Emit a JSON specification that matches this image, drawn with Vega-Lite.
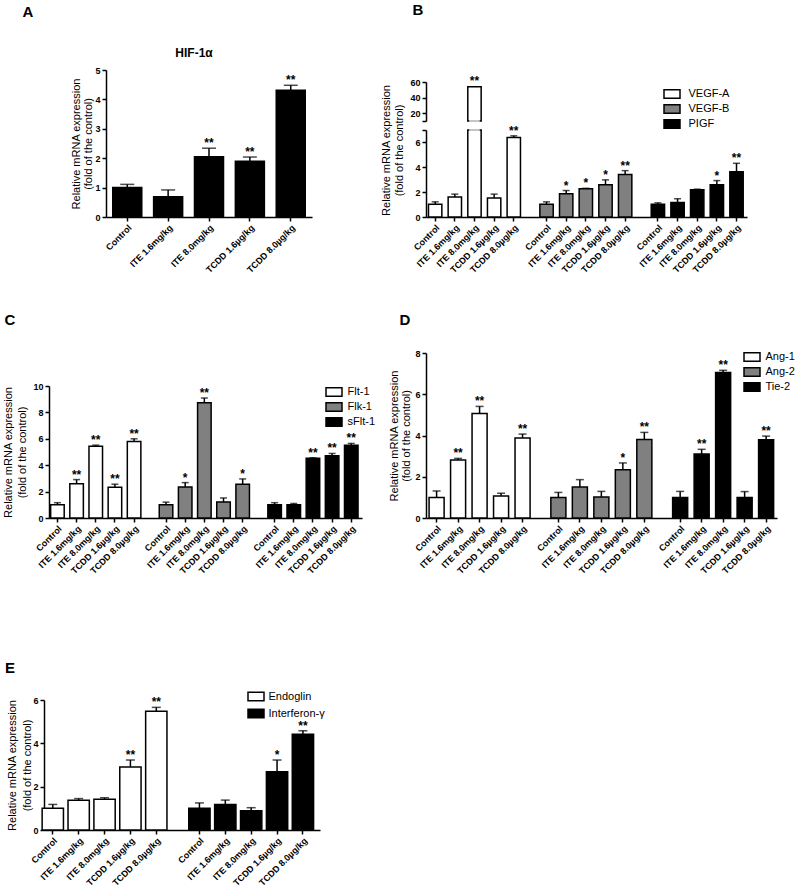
{
"$schema":"https://vega.github.io/schema/vega-lite/v6.json",
"background":"white","padding":0,"autosize":{"type":"pad"},
"columns":2,"align":"none","bounds":"flush","spacing":0,
"resolve":{"scale":{"x":"independent","y":"independent","fill":"independent"},"legend":{"fill":"independent"}},
"datasets":{
"empty":[],
"A":[{"key":"Control","value":1.0,"hi":1.11,"sig":""},{"key":"ITE 1.6mg/kg","value":0.69,"hi":0.92,"sig":""},{"key":"ITE 8.0mg/kg","value":2.05,"hi":2.34,"sig":"**"},{"key":"TCDD 1.6µg/kg","value":1.9,"hi":2.04,"sig":"**"},{"key":"TCDD 8.0µg/kg","value":4.31,"hi":4.48,"sig":"**"}],
"B":[{"key":"VEGF-A|Control","gene":"VEGF-A","value":1.02,"hi":1.22,"sig":""},{"key":"VEGF-A|ITE 1.6mg/kg","gene":"VEGF-A","value":1.6,"hi":1.84,"sig":""},{"key":"VEGF-A|ITE 8.0mg/kg","gene":"VEGF-A","value":54,"hi":54.3,"sig":"**"},{"key":"VEGF-A|TCDD 1.6µg/kg","gene":"VEGF-A","value":1.52,"hi":1.84,"sig":""},{"key":"VEGF-A|TCDD 8.0µg/kg","gene":"VEGF-A","value":6.4,"hi":6.53,"sig":"**"},
{"key":"VEGF-B|Control","gene":"VEGF-B","value":1.02,"hi":1.22,"sig":""},{"key":"VEGF-B|ITE 1.6mg/kg","gene":"VEGF-B","value":1.87,"hi":2.13,"sig":"*"},{"key":"VEGF-B|ITE 8.0mg/kg","gene":"VEGF-B","value":2.27,"hi":2.31,"sig":"*"},{"key":"VEGF-B|TCDD 1.6µg/kg","gene":"VEGF-B","value":2.59,"hi":2.99,"sig":"*"},{"key":"VEGF-B|TCDD 8.0µg/kg","gene":"VEGF-B","value":3.41,"hi":3.73,"sig":"**"},
{"key":"PIGF|Control","gene":"PIGF","value":1.02,"hi":1.14,"sig":""},{"key":"PIGF|ITE 1.6mg/kg","gene":"PIGF","value":1.17,"hi":1.47,"sig":""},{"key":"PIGF|ITE 8.0mg/kg","gene":"PIGF","value":2.19,"hi":2.24,"sig":""},{"key":"PIGF|TCDD 1.6µg/kg","gene":"PIGF","value":2.59,"hi":2.93,"sig":"*"},{"key":"PIGF|TCDD 8.0µg/kg","gene":"PIGF","value":3.65,"hi":4.32,"sig":"**"}],
"C":[{"key":"Flt-1|Control","gene":"Flt-1","value":1.01,"hi":1.16,"sig":""},{"key":"Flt-1|ITE 1.6mg/kg","gene":"Flt-1","value":2.6,"hi":2.91,"sig":"**"},{"key":"Flt-1|ITE 8.0mg/kg","gene":"Flt-1","value":5.44,"hi":5.52,"sig":"**"},{"key":"Flt-1|TCDD 1.6µg/kg","gene":"Flt-1","value":2.33,"hi":2.56,"sig":"**"},{"key":"Flt-1|TCDD 8.0µg/kg","gene":"Flt-1","value":5.8,"hi":6.0,"sig":"**"},
{"key":"Flk-1|Control","gene":"Flk-1","value":1.01,"hi":1.2,"sig":""},{"key":"Flk-1|ITE 1.6mg/kg","gene":"Flk-1","value":2.35,"hi":2.68,"sig":"*"},{"key":"Flk-1|ITE 8.0mg/kg","gene":"Flk-1","value":8.73,"hi":9.09,"sig":"**"},{"key":"Flk-1|TCDD 1.6µg/kg","gene":"Flk-1","value":1.22,"hi":1.52,"sig":""},{"key":"Flk-1|TCDD 8.0µg/kg","gene":"Flk-1","value":2.56,"hi":2.96,"sig":"*"},
{"key":"sFlt-1|Control","gene":"sFlt-1","value":1.0,"hi":1.16,"sig":""},{"key":"sFlt-1|ITE 1.6mg/kg","gene":"sFlt-1","value":1.0,"hi":1.1,"sig":""},{"key":"sFlt-1|ITE 8.0mg/kg","gene":"sFlt-1","value":4.53,"hi":4.56,"sig":"**"},{"key":"sFlt-1|TCDD 1.6µg/kg","gene":"sFlt-1","value":4.71,"hi":4.89,"sig":"**"},{"key":"sFlt-1|TCDD 8.0µg/kg","gene":"sFlt-1","value":5.52,"hi":5.65,"sig":"**"}],
"D":[{"key":"Ang-1|Control","gene":"Ang-1","value":1.0,"hi":1.31,"sig":""},{"key":"Ang-1|ITE 1.6mg/kg","gene":"Ang-1","value":2.81,"hi":2.89,"sig":"**"},{"key":"Ang-1|ITE 8.0mg/kg","gene":"Ang-1","value":5.07,"hi":5.41,"sig":"**"},{"key":"Ang-1|TCDD 1.6µg/kg","gene":"Ang-1","value":1.07,"hi":1.2,"sig":""},{"key":"Ang-1|TCDD 8.0µg/kg","gene":"Ang-1","value":3.88,"hi":4.07,"sig":"**"},
{"key":"Ang-2|Control","gene":"Ang-2","value":1.0,"hi":1.24,"sig":""},{"key":"Ang-2|ITE 1.6mg/kg","gene":"Ang-2","value":1.5,"hi":1.86,"sig":""},{"key":"Ang-2|ITE 8.0mg/kg","gene":"Ang-2","value":1.02,"hi":1.29,"sig":""},{"key":"Ang-2|TCDD 1.6µg/kg","gene":"Ang-2","value":2.34,"hi":2.67,"sig":"*"},{"key":"Ang-2|TCDD 8.0µg/kg","gene":"Ang-2","value":3.81,"hi":4.15,"sig":"**"},
{"key":"Tie-2|Control","gene":"Tie-2","value":1.0,"hi":1.29,"sig":""},{"key":"Tie-2|ITE 1.6mg/kg","gene":"Tie-2","value":3.1,"hi":3.33,"sig":"**"},{"key":"Tie-2|ITE 8.0mg/kg","gene":"Tie-2","value":7.06,"hi":7.16,"sig":"**"},{"key":"Tie-2|TCDD 1.6µg/kg","gene":"Tie-2","value":0.99,"hi":1.28,"sig":""},{"key":"Tie-2|TCDD 8.0µg/kg","gene":"Tie-2","value":3.8,"hi":3.97,"sig":"**"}],
"E":[{"key":"Endoglin|Control","gene":"Endoglin","value":1.0,"hi":1.18,"sig":""},{"key":"Endoglin|ITE 1.6mg/kg","gene":"Endoglin","value":1.37,"hi":1.45,"sig":""},{"key":"Endoglin|ITE 8.0mg/kg","gene":"Endoglin","value":1.42,"hi":1.49,"sig":""},{"key":"Endoglin|TCDD 1.6µg/kg","gene":"Endoglin","value":2.91,"hi":3.23,"sig":"**"},{"key":"Endoglin|TCDD 8.0µg/kg","gene":"Endoglin","value":5.48,"hi":5.66,"sig":"**"},
{"key":"Interferon-γ|Control","gene":"Interferon-γ","value":1.0,"hi":1.25,"sig":""},{"key":"Interferon-γ|ITE 1.6mg/kg","gene":"Interferon-γ","value":1.18,"hi":1.38,"sig":""},{"key":"Interferon-γ|ITE 8.0mg/kg","gene":"Interferon-γ","value":0.89,"hi":1.03,"sig":""},{"key":"Interferon-γ|TCDD 1.6µg/kg","gene":"Interferon-γ","value":2.69,"hi":3.23,"sig":"*"},{"key":"Interferon-γ|TCDD 8.0µg/kg","gene":"Interferon-γ","value":4.42,"hi":4.58,"sig":"**"}]
},
"concat":[
{"width":56,"height":24,"data":{"values":[{"t":"A"}]},"mark":{"type":"text","fontSize":15,"fontWeight":"bold","color":"black"},"encoding":{"text":{"field":"t"}}},
{"width":36,"height":20,"data":{"values":[{"t":"B"}]},"mark":{"type":"text","fontSize":15,"fontWeight":"bold","color":"black"},"encoding":{"text":{"field":"t"}}},

{"width":400,"height":46,"data":{"name":"empty"},"mark":"point"},
{"width":397,"height":1,"data":{"name":"empty"},"mark":"point"},

{"width":312,"height":147,"title":{"text":"HIF-1α","frame":"group","dx":38,"fontSize":12,"fontWeight":"bold","offset":6,"color":"black"},"data":{"name":"A"},
 "layer":[
 {"mark":{"type":"bar","fill":"black","stroke":"black","strokeWidth":1.5,"width":{"band":0.71}},
  "encoding":{"x":{"field":"key","type":"nominal","scale":{"domain":["Control","ITE 1.6mg/kg","ITE 8.0mg/kg","TCDD 1.6µg/kg","TCDD 8.0µg/kg"],"range":[106,312],"paddingInner":0,"paddingOuter":0.02},"axis":{"title":null,"labelOverlap":false}},
   "y":{"field":"value","type":"quantitative","scale":{"domain":[0,5],"nice":false},"axis":{"values":[0,1,2,3,4,5],"format":"d","tickCount":30,"labelOverlap":false,"offset":-106,"title":["Relative mRNA expression","(fold of the control)"],"titleLineHeight":12,"titlePadding":1}}}},
 {"mark":{"type":"rule","color":"black","strokeWidth":1.5},"encoding":{"x":{"field":"key","type":"nominal"},"y":{"field":"value","type":"quantitative"},"y2":{"field":"hi"}}},
 {"mark":{"type":"tick","orient":"horizontal","color":"black","thickness":1.5,"size":14},"encoding":{"x":{"field":"key","type":"nominal"},"y":{"field":"hi","type":"quantitative"}}},
 {"mark":{"type":"text","fontSize":12,"fontWeight":"bold","baseline":"alphabetic","dy":-1,"color":"black"},"encoding":{"x":{"field":"key","type":"nominal"},"y":{"field":"hi","type":"quantitative"},"text":{"field":"sig"}}}
 ]},
{"width":347,"height":147,"data":{"name":"B"},
 "resolve":{"scale":{"y":"independent"}},
 "layer":[
  {"transform":[{"filter":"datum.value > 10"}],
   "layer":[
   {"mark":{"type":"bar","stroke":"black","strokeWidth":1.5,"width":{"band":2.04}},
    "encoding":{"x":{"field":"key","type":"nominal"},
     "y":{"field":"value","type":"quantitative","scale":{"domain":[10,60],"range":[51,12],"nice":false,"zero":false,"clamp":true},"axis":{"orient":"left","offset":-26,"values":[10,20,40,60],"format":"d","tickCount":30,"labelOverlap":false,"labelExpr":"datum.value == 10 ? '' : datum.label","title":null}},
     "y2":{"datum":0},
     "fill":{"field":"gene","type":"nominal","scale":{"domain":["VEGF-A","VEGF-B","PIGF"],"range":["white","#808080","black"]},"legend":{"orient":"none","legendX":263,"legendY":16.5,"clipHeight":15,"rowPadding":0,"labelOffset":7.5,"title":null}}}},
   {"mark":{"type":"tick","orient":"horizontal","color":"white","thickness":2.5,"size":10.5},"encoding":{"x":{"field":"key","type":"nominal"},"y":{"datum":10}}},
   {"mark":{"type":"text","fontSize":12,"fontWeight":"bold","baseline":"alphabetic","dy":-1,"color":"black"},"encoding":{"x":{"field":"key","type":"nominal"},"y":{"field":"hi","type":"quantitative"},"text":{"field":"sig"}}}
   ]},
  {"layer":[
   {"mark":{"type":"bar","stroke":"black","strokeWidth":1.5,"width":{"band":2.04}},
    "encoding":{"x":{"field":"key","type":"nominal","scale":{"domain":["VEGF-A|Control","_1","_2","VEGF-A|ITE 1.6mg/kg","_3","_4","VEGF-A|ITE 8.0mg/kg","_5","_6","VEGF-A|TCDD 1.6µg/kg","_7","_8","VEGF-A|TCDD 8.0µg/kg","_9","_10","_11","_12","VEGF-B|Control","_13","_14","VEGF-B|ITE 1.6mg/kg","_15","_16","VEGF-B|ITE 8.0mg/kg","_17","_18","VEGF-B|TCDD 1.6µg/kg","_19","_20","VEGF-B|TCDD 8.0µg/kg","_21","_22","_23","_24","PIGF|Control","_25","_26","PIGF|ITE 1.6mg/kg","_27","_28","PIGF|ITE 8.0mg/kg","_29","_30","PIGF|TCDD 1.6µg/kg","_31","_32","PIGF|TCDD 8.0µg/kg"],"range":[26,347],"paddingInner":0,"paddingOuter":2.3,"align":0.45},
      "axis":{"values":["VEGF-A|Control","VEGF-A|ITE 1.6mg/kg","VEGF-A|ITE 8.0mg/kg","VEGF-A|TCDD 1.6µg/kg","VEGF-A|TCDD 8.0µg/kg","VEGF-B|Control","VEGF-B|ITE 1.6mg/kg","VEGF-B|ITE 8.0mg/kg","VEGF-B|TCDD 1.6µg/kg","VEGF-B|TCDD 8.0µg/kg","PIGF|Control","PIGF|ITE 1.6mg/kg","PIGF|ITE 8.0mg/kg","PIGF|TCDD 1.6µg/kg","PIGF|TCDD 8.0µg/kg"],"labelOverlap":false,"labelExpr":"split(datum.label, '|')[1]","title":null}},
     "y":{"field":"value","type":"quantitative","scale":{"domain":[0,7],"range":[147,60],"nice":false,"clamp":true},"axis":{"orient":"left","offset":-26,"values":[0,2,4,6,7],"format":"d","tickCount":30,"labelOverlap":false,"labelExpr":"datum.value == 7 ? '' : datum.label","title":["Relative mRNA expression","(fold of the control)"],"titleLineHeight":13,"titlePadding":10,"titleY":80}},
     "fill":{"field":"gene","type":"nominal","scale":{"domain":["VEGF-A","VEGF-B","PIGF"],"range":["white","#808080","black"]},"legend":{"orient":"none","legendX":263,"legendY":16.5,"clipHeight":15,"rowPadding":0,"labelOffset":7.5,"title":null}}}},
   {"transform":[{"filter":"datum.value > 7"}],"mark":{"type":"tick","orient":"horizontal","color":"white","thickness":2.5,"size":10.5},"encoding":{"x":{"field":"key","type":"nominal"},"y":{"field":"value","type":"quantitative"}}},
   {"transform":[{"filter":"datum.hi <= 7"}],"mark":{"type":"rule","color":"black","strokeWidth":1.5},"encoding":{"x":{"field":"key","type":"nominal"},"y":{"field":"value","type":"quantitative"},"y2":{"field":"hi"}}},
   {"transform":[{"filter":"datum.hi <= 7"}],"mark":{"type":"tick","orient":"horizontal","color":"black","thickness":1.5,"size":7},"encoding":{"x":{"field":"key","type":"nominal"},"y":{"field":"hi","type":"quantitative"}}},
   {"transform":[{"filter":"datum.hi <= 7"}],"mark":{"type":"text","fontSize":12,"fontWeight":"bold","baseline":"alphabetic","dy":-1,"color":"black"},"encoding":{"x":{"field":"key","type":"nominal"},"y":{"field":"hi","type":"quantitative"},"text":{"field":"sig"}}}
  ]}
 ]},

{"width":1,"height":89,"data":{"name":"empty"},"mark":"point"},
{"width":1,"height":1,"data":{"name":"empty"},"mark":"point"},

{"width":20,"height":28,"data":{"values":[{"t":"C"}]},"mark":{"type":"text","fontSize":15,"fontWeight":"bold","color":"black"},"encoding":{"text":{"field":"t"}}},
{"width":10,"height":28,"data":{"values":[{"t":"D"}]},"mark":{"type":"text","fontSize":15,"fontWeight":"bold","color":"black"},"encoding":{"text":{"field":"t"}}},

{"width":1,"height":19,"data":{"name":"empty"},"mark":"point"},
{"width":1,"height":1,"data":{"name":"empty"},"mark":"point"},

{"width":362,"height":165,"data":{"name":"C"},
 "layer":[
 {"mark":{"type":"bar","stroke":"black","strokeWidth":1.5,"width":{"band":2.12}},
  "encoding":{"x":{"field":"key","type":"nominal","scale":{"domain":["Flt-1|Control","_1","_2","Flt-1|ITE 1.6mg/kg","_3","_4","Flt-1|ITE 8.0mg/kg","_5","_6","Flt-1|TCDD 1.6µg/kg","_7","_8","Flt-1|TCDD 8.0µg/kg","_9","_10","_11","_12","Flk-1|Control","_13","_14","Flk-1|ITE 1.6mg/kg","_15","_16","Flk-1|ITE 8.0mg/kg","_17","_18","Flk-1|TCDD 1.6µg/kg","_19","_20","Flk-1|TCDD 8.0µg/kg","_21","_22","_23","_24","sFlt-1|Control","_25","_26","sFlt-1|ITE 1.6mg/kg","_27","_28","sFlt-1|ITE 8.0mg/kg","_29","_30","sFlt-1|TCDD 1.6µg/kg","_31","_32","sFlt-1|TCDD 8.0µg/kg"],"range":[49,362],"paddingInner":0,"paddingOuter":2.03,"align":0.41},
    "axis":{"values":["Flt-1|Control","Flt-1|ITE 1.6mg/kg","Flt-1|ITE 8.0mg/kg","Flt-1|TCDD 1.6µg/kg","Flt-1|TCDD 8.0µg/kg","Flk-1|Control","Flk-1|ITE 1.6mg/kg","Flk-1|ITE 8.0mg/kg","Flk-1|TCDD 1.6µg/kg","Flk-1|TCDD 8.0µg/kg","sFlt-1|Control","sFlt-1|ITE 1.6mg/kg","sFlt-1|ITE 8.0mg/kg","sFlt-1|TCDD 1.6µg/kg","sFlt-1|TCDD 8.0µg/kg"],"labelOverlap":false,"labelExpr":"split(datum.label, '|')[1]","title":null}},
   "y":{"field":"value","type":"quantitative","scale":{"domain":[0,10],"range":[165,33],"nice":false},"axis":{"values":[0,2,4,6,8,10],"format":"d","tickCount":30,"labelOverlap":false,"offset":-49,"title":["Relative mRNA expression","(fold of the control)"],"titleLineHeight":14,"titlePadding":5}},
   "fill":{"field":"gene","type":"nominal","scale":{"domain":["Flt-1","Flk-1","sFlt-1"],"range":["white","#808080","black"]},"legend":{"orient":"none","legendX":325,"legendY":31.5,"clipHeight":15,"rowPadding":0,"labelOffset":4.5,"title":null}}}},
 {"mark":{"type":"rule","color":"black","strokeWidth":1.5},"encoding":{"x":{"field":"key","type":"nominal"},"y":{"field":"value","type":"quantitative"},"y2":{"field":"hi"}}},
 {"mark":{"type":"tick","orient":"horizontal","color":"black","thickness":1.5,"size":7},"encoding":{"x":{"field":"key","type":"nominal"},"y":{"field":"hi","type":"quantitative"}}},
 {"mark":{"type":"text","fontSize":12,"fontWeight":"bold","baseline":"alphabetic","dy":-1,"color":"black"},"encoding":{"x":{"field":"key","type":"nominal"},"y":{"field":"hi","type":"quantitative"},"text":{"field":"sig"}}}
 ]},
{"width":377,"height":165,"data":{"name":"D"},
 "layer":[
 {"mark":{"type":"bar","stroke":"black","strokeWidth":1.5,"width":{"band":2.1}},
  "encoding":{"x":{"field":"key","type":"nominal","scale":{"domain":["Ang-1|Control","_1","_2","Ang-1|ITE 1.6mg/kg","_3","_4","Ang-1|ITE 8.0mg/kg","_5","_6","Ang-1|TCDD 1.6µg/kg","_7","_8","Ang-1|TCDD 8.0µg/kg","_9","_10","_11","_12","Ang-2|Control","_13","_14","Ang-2|ITE 1.6mg/kg","_15","_16","Ang-2|ITE 8.0mg/kg","_17","_18","Ang-2|TCDD 1.6µg/kg","_19","_20","Ang-2|TCDD 8.0µg/kg","_21","_22","_23","_24","Tie-2|Control","_25","_26","Tie-2|ITE 1.6mg/kg","_27","_28","Tie-2|ITE 8.0mg/kg","_29","_30","Tie-2|TCDD 1.6µg/kg","_31","_32","Tie-2|TCDD 8.0µg/kg"],"range":[26,377],"paddingInner":0,"paddingOuter":2.2,"align":0.49},
    "axis":{"values":["Ang-1|Control","Ang-1|ITE 1.6mg/kg","Ang-1|ITE 8.0mg/kg","Ang-1|TCDD 1.6µg/kg","Ang-1|TCDD 8.0µg/kg","Ang-2|Control","Ang-2|ITE 1.6mg/kg","Ang-2|ITE 8.0mg/kg","Ang-2|TCDD 1.6µg/kg","Ang-2|TCDD 8.0µg/kg","Tie-2|Control","Tie-2|ITE 1.6mg/kg","Tie-2|ITE 8.0mg/kg","Tie-2|TCDD 1.6µg/kg","Tie-2|TCDD 8.0µg/kg"],"labelOverlap":false,"labelExpr":"split(datum.label, '|')[1]","title":null}},
   "y":{"field":"value","type":"quantitative","scale":{"domain":[0,8],"nice":false},"axis":{"values":[0,2,4,6,8],"format":"d","tickCount":30,"labelOverlap":false,"offset":-26,"title":["Relative mRNA expression","(fold of the control)"],"titleLineHeight":12,"titlePadding":3}},
   "fill":{"field":"gene","type":"nominal","scale":{"domain":["Ang-1","Ang-2","Tie-2"],"range":["white","#808080","black"]},"legend":{"orient":"none","legendX":343,"legendY":-3.25,"clipHeight":14.5,"rowPadding":0,"labelOffset":4.5,"title":null}}}},
 {"mark":{"type":"rule","color":"black","strokeWidth":1.5},"encoding":{"x":{"field":"key","type":"nominal"},"y":{"field":"value","type":"quantitative"},"y2":{"field":"hi"}}},
 {"mark":{"type":"tick","orient":"horizontal","color":"black","thickness":1.5,"size":8},"encoding":{"x":{"field":"key","type":"nominal"},"y":{"field":"hi","type":"quantitative"}}},
 {"mark":{"type":"text","fontSize":12,"fontWeight":"bold","baseline":"alphabetic","dy":-1,"color":"black"},"encoding":{"x":{"field":"key","type":"nominal"},"y":{"field":"hi","type":"quantitative"},"text":{"field":"sig"}}}
 ]},

{"width":1,"height":136,"data":{"name":"empty"},"mark":"point"},
{"width":1,"height":1,"data":{"name":"empty"},"mark":"point"},

{"width":20,"height":28,"data":{"values":[{"t":"E"}]},"mark":{"type":"text","fontSize":15,"fontWeight":"bold","color":"black"},"encoding":{"text":{"field":"t"}}},
{"width":1,"height":1,"data":{"name":"empty"},"mark":"point"},

{"width":1,"height":18,"data":{"name":"empty"},"mark":"point"},
{"width":1,"height":1,"data":{"name":"empty"},"mark":"point"},

{"width":320,"height":130,"data":{"name":"E"},
 "layer":[
 {"mark":{"type":"bar","stroke":"black","strokeWidth":1.5,"width":{"band":2.47}},
  "encoding":{"x":{"field":"key","type":"nominal","scale":{"domain":["Endoglin|Control","_1","_2","Endoglin|ITE 1.6mg/kg","_3","_4","Endoglin|ITE 8.0mg/kg","_5","_6","Endoglin|TCDD 1.6µg/kg","_7","_8","Endoglin|TCDD 8.0µg/kg","_9","_10","_11","_12","Interferon-γ|Control","_13","_14","Interferon-γ|ITE 1.6mg/kg","_15","_16","Interferon-γ|ITE 8.0mg/kg","_17","_18","Interferon-γ|TCDD 1.6µg/kg","_19","_20","Interferon-γ|TCDD 8.0µg/kg"],"range":[44,320],"paddingInner":0,"paddingOuter":5.45,"align":0.26},
    "axis":{"values":["Endoglin|Control","Endoglin|ITE 1.6mg/kg","Endoglin|ITE 8.0mg/kg","Endoglin|TCDD 1.6µg/kg","Endoglin|TCDD 8.0µg/kg","Interferon-γ|Control","Interferon-γ|ITE 1.6mg/kg","Interferon-γ|ITE 8.0mg/kg","Interferon-γ|TCDD 1.6µg/kg","Interferon-γ|TCDD 8.0µg/kg"],"labelOverlap":false,"labelExpr":"split(datum.label, '|')[1]","title":null}},
   "y":{"field":"value","type":"quantitative","scale":{"domain":[0,6],"nice":false},"axis":{"values":[0,2,4,6],"format":"d","tickCount":30,"labelOverlap":false,"offset":-44,"title":["Relative mRNA expression","(fold of the control)"],"titleLineHeight":15,"titlePadding":0}},
   "fill":{"field":"gene","type":"nominal","scale":{"domain":["Endoglin","Interferon-γ"],"range":["white","black"]},"legend":{"orient":"none","legendX":247,"legendY":-11.75,"clipHeight":16.5,"rowPadding":0,"labelOffset":3.5,"title":null}}}},
 {"mark":{"type":"rule","color":"black","strokeWidth":1.5},"encoding":{"x":{"field":"key","type":"nominal"},"y":{"field":"value","type":"quantitative"},"y2":{"field":"hi"}}},
 {"mark":{"type":"tick","orient":"horizontal","color":"black","thickness":1.5,"size":9},"encoding":{"x":{"field":"key","type":"nominal"},"y":{"field":"hi","type":"quantitative"}}},
 {"mark":{"type":"text","fontSize":12,"fontWeight":"bold","baseline":"alphabetic","dy":-1,"color":"black"},"encoding":{"x":{"field":"key","type":"nominal"},"y":{"field":"hi","type":"quantitative"},"text":{"field":"sig"}}}
 ]},
{"width":1,"height":1,"data":{"name":"empty"},"mark":"point"}
],
"config":{
 "view":{"stroke":null},
 "font":"Liberation Sans",
 "axis":{"domainColor":"black","domainWidth":1.5,"tickColor":"black","tickWidth":1.5,"tickSize":4,"labelFont":"Liberation Sans","labelFontSize":9,"labelFontWeight":"bold","labelColor":"black","labelOverlap":false,"titleFont":"Liberation Sans","titleFontSize":11,"titleFontWeight":"normal","titleColor":"black","grid":false,"labelPadding":2},
 "axisX":{"labelAngle":-45},
 "legend":{"symbolType":"M-1,-0.53H1V0.53H-1Z","symbolSize":256,"symbolStrokeColor":"black","symbolStrokeWidth":1.5,"labelFont":"Liberation Sans","labelFontSize":11,"labelColor":"black","padding":0}
}
}
